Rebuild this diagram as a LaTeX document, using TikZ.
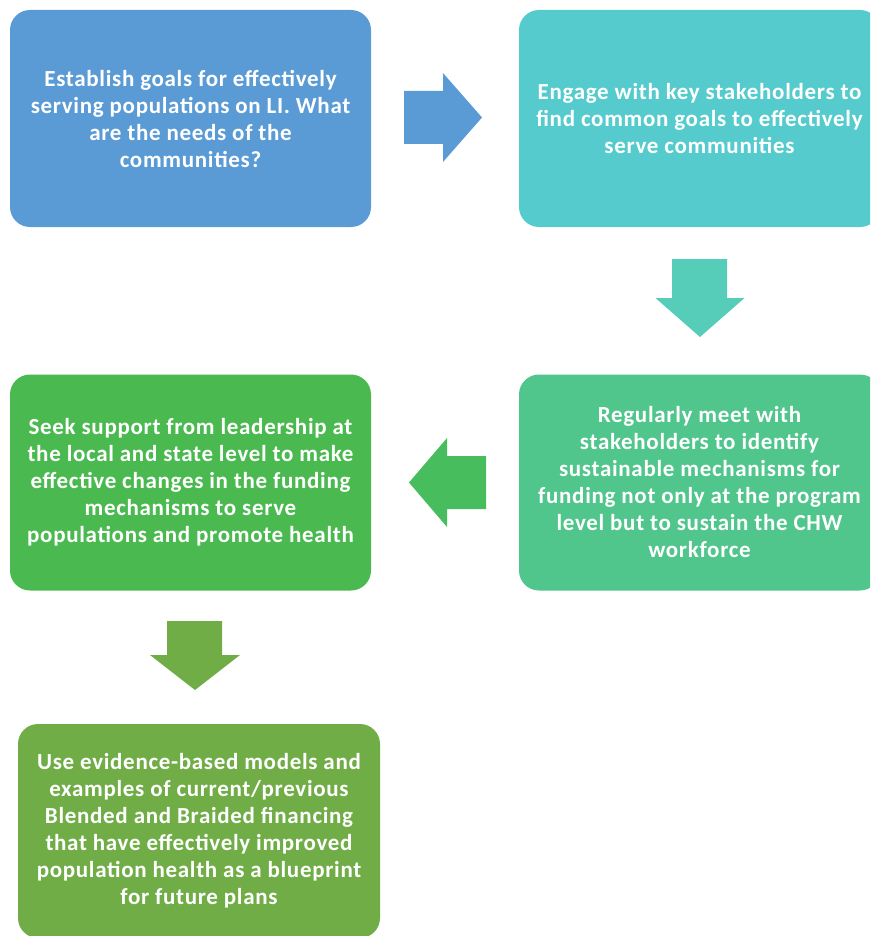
\documentclass[tikz,border=0pt]{standalone}
\usepackage{fontspec}
\setmainfont{Carlito}
\newfontfamily\boxfont{Carlito}[LetterSpace=3]
\definecolor{cBlue}{HTML}{5B9BD5}
\definecolor{cTeal}{HTML}{55CBCD}
\definecolor{cSea}{HTML}{50C58C}
\definecolor{cGreen}{HTML}{4ABA50}
\definecolor{cOlive}{HTML}{70AD47}
\definecolor{aTeal}{HTML}{55CDB9}
\definecolor{aGreen}{HTML}{47BD5E}
\begin{document}
\begin{tikzpicture}[x=1pt,y=-1pt,
  stepbox/.style={rectangle, rounded corners=20pt, draw=none, text=white,
    align=center, inner sep=4pt,
    font=\boxfont\fontsize{23pt}{27pt}\selectfont\bfseries}]
\clip (0,0) rectangle (870,936);

% process steps
\node[stepbox, fill=cBlue, minimum width=361pt, minimum height=217pt] (b1) at (190.5,118.5)
  {Establish goals for effectively\\serving populations on LI. What\\are the needs of the\\communities?};
\node[stepbox, fill=cTeal, minimum width=361pt, minimum height=217pt] (b2) at (699.5,118.5)
  {Engage with key stakeholders to\\find common goals to effectively\\serve communities};
\node[stepbox, fill=cSea, minimum width=361pt, minimum height=216pt] (b3) at (699.5,482.5)
  {Regularly meet with\\stakeholders to identify\\sustainable mechanisms for\\funding not only at the program\\level but to sustain the CHW\\workforce};
\node[stepbox, fill=cGreen, minimum width=361pt, minimum height=216pt] (b4) at (190.5,482.5)
  {Seek support from leadership at\\the local and state level to make\\effective changes in the funding\\mechanisms to serve\\populations and promote health};
\node[stepbox, fill=cOlive, minimum width=362pt, minimum height=214pt] (b5) at (199,831)
  {Use evidence-based models and\\examples of current/previous\\Blended and Braided financing\\that have effectively improved\\population health as a blueprint\\for future plans};

% block arrows between steps
\fill[cBlue] (404,91) -- (443,91) -- (443,73) -- (482,117.5) -- (443,162) -- (443,144) -- (404,144) -- cycle;
\fill[aTeal] (672,259) -- (727,259) -- (727,298) -- (744.5,298) -- (700,337) -- (655.5,298) -- (672,298) -- cycle;
\fill[aGreen] (486,456) -- (447,456) -- (447,438) -- (409,482.5) -- (447,527) -- (447,509) -- (486,509) -- cycle;
\fill[cOlive] (167,621) -- (222,621) -- (222,655) -- (240,655) -- (195,690) -- (150,655) -- (167,655) -- cycle;
\end{tikzpicture}
\end{document}
